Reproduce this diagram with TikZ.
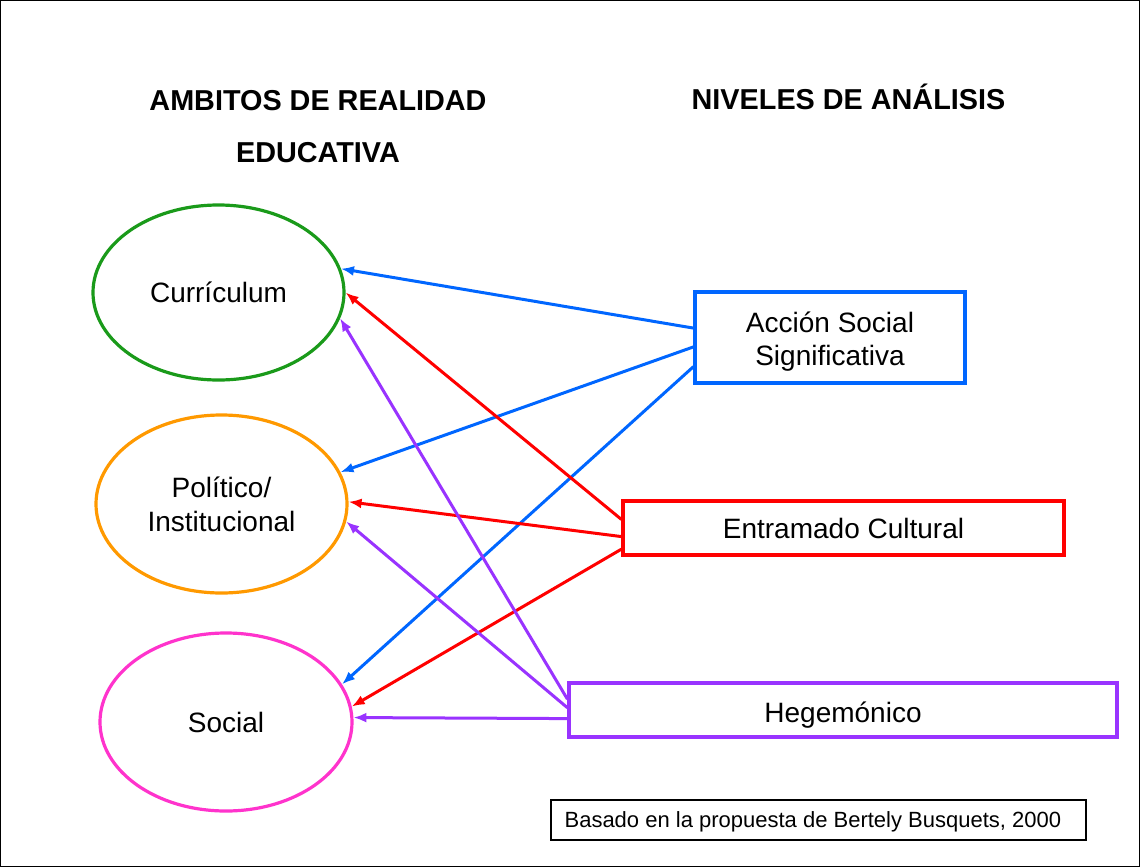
\documentclass[tikz,border=0pt]{standalone}
\usepackage{fontspec}
\setmainfont{Liberation Sans}
\usetikzlibrary{shapes.geometric,arrows.meta,calc}
\definecolor{cgreen}{HTML}{1A9A1A}
\definecolor{corange}{HTML}{FF9900}
\definecolor{cmagenta}{HTML}{FF33CC}
\definecolor{cblue}{HTML}{0066FF}
\definecolor{cred}{HTML}{FF0000}
\definecolor{cpurple}{HTML}{9933FF}
\tikzset{
  ell/.style={ellipse, draw, line width=3.2pt, inner sep=0pt, font=\fontsize{28}{34}\selectfont, align=center},
  lvl/.style={rectangle, draw, line width=3.2pt, inner sep=0pt},
  lvltext/.style={inner sep=0pt, font=\fontsize{28}{33}\selectfont, align=center},
  hdr/.style={font=\bfseries\fontsize{28.8}{52}\selectfont, align=center, inner sep=0pt},
  conn/.style={line width=3pt, -{Latex[length=13pt,width=10pt]}},
}
\begin{document}
\begin{tikzpicture}[x=1pt,y=-1pt]
\useasboundingbox (0,0) rectangle (1140,867);
\draw[line width=1pt] (0.5,0.5) rectangle (1139.5,866.5);

\node[hdr] (h1) at (318,127) {AMBITOS DE REALIDAD\\EDUCATIVA};
\node[hdr] (h2) at (848.5,97) {NIVELES DE ANÁLISIS};

\node[ell, draw=cgreen, minimum width=251pt, minimum height=175pt] (cur) at (218.5,292.5) {Currículum};
\node[ell, draw=corange, minimum width=251pt, minimum height=178pt] (pol) at (221.5,504) {Político/\\Institucional};
\node[ell, draw=cmagenta, minimum width=252pt, minimum height=178pt] (soc) at (226,722) {Social};

\node[lvl, draw=cblue, minimum width=270pt, minimum height=91pt] (acc) at (830,337.5) {};
\node[lvltext] (acct) at ($(acc.center)+(0,4)$) {Acción Social\\Significativa};
\node[lvl, draw=cred, minimum width=441pt, minimum height=54pt] (ent) at (843.5,528) {};
\node[lvltext] (entt) at ($(ent.center)+(0,0.5)$) {Entramado Cultural};
\node[lvl, draw=cpurple, minimum width=548pt, minimum height=54pt] (heg) at (843,710) {};
\node[lvltext] (hegt) at ($(heg.center)+(0,5)$) {Hegemónico};

\node[draw, line width=1.2pt, minimum width=535pt, minimum height=40pt, inner sep=0pt] (bas) at (818.5,820) {};
\node[anchor=west, inner sep=0pt, font=\fontsize{22}{24}\selectfont] (bast) at ($(bas.west)+(14,2)$) {Basado en la propuesta de Bertely Busquets, 2000};

% blue
\draw[conn, cblue] ($(acc.north west)!0.40!(acc.south west)$) -- (cur.11.6);
\draw[conn, cblue] ($(acc.north west)!0.60!(acc.south west)$) -- (pol.15.4);
\draw[conn, cblue] ($(acc.north west)!0.81!(acc.south west)$) -- (soc.18.9);
% red
\draw[conn, cred] ($(ent.north west)!0.35!(ent.south west)$) -- (cur.0);
\draw[conn, cred] ($(ent.north west)!0.65!(ent.south west)$) -- (pol.1);
\draw[conn, cred] ($(ent.north west)!0.87!(ent.south west)$) -- (soc.7.6);
% purple
\draw[conn, cpurple] ($(heg.north west)!0.31!(heg.south west)$) -- (cur.-12.9);
\draw[conn, cpurple] ($(heg.north west)!0.46!(heg.south west)$) -- (pol.-8.1);
\draw[conn, cpurple] ($(heg.north west)!0.65!(heg.south west)$) -- (soc.2);
\end{tikzpicture}
\end{document}
